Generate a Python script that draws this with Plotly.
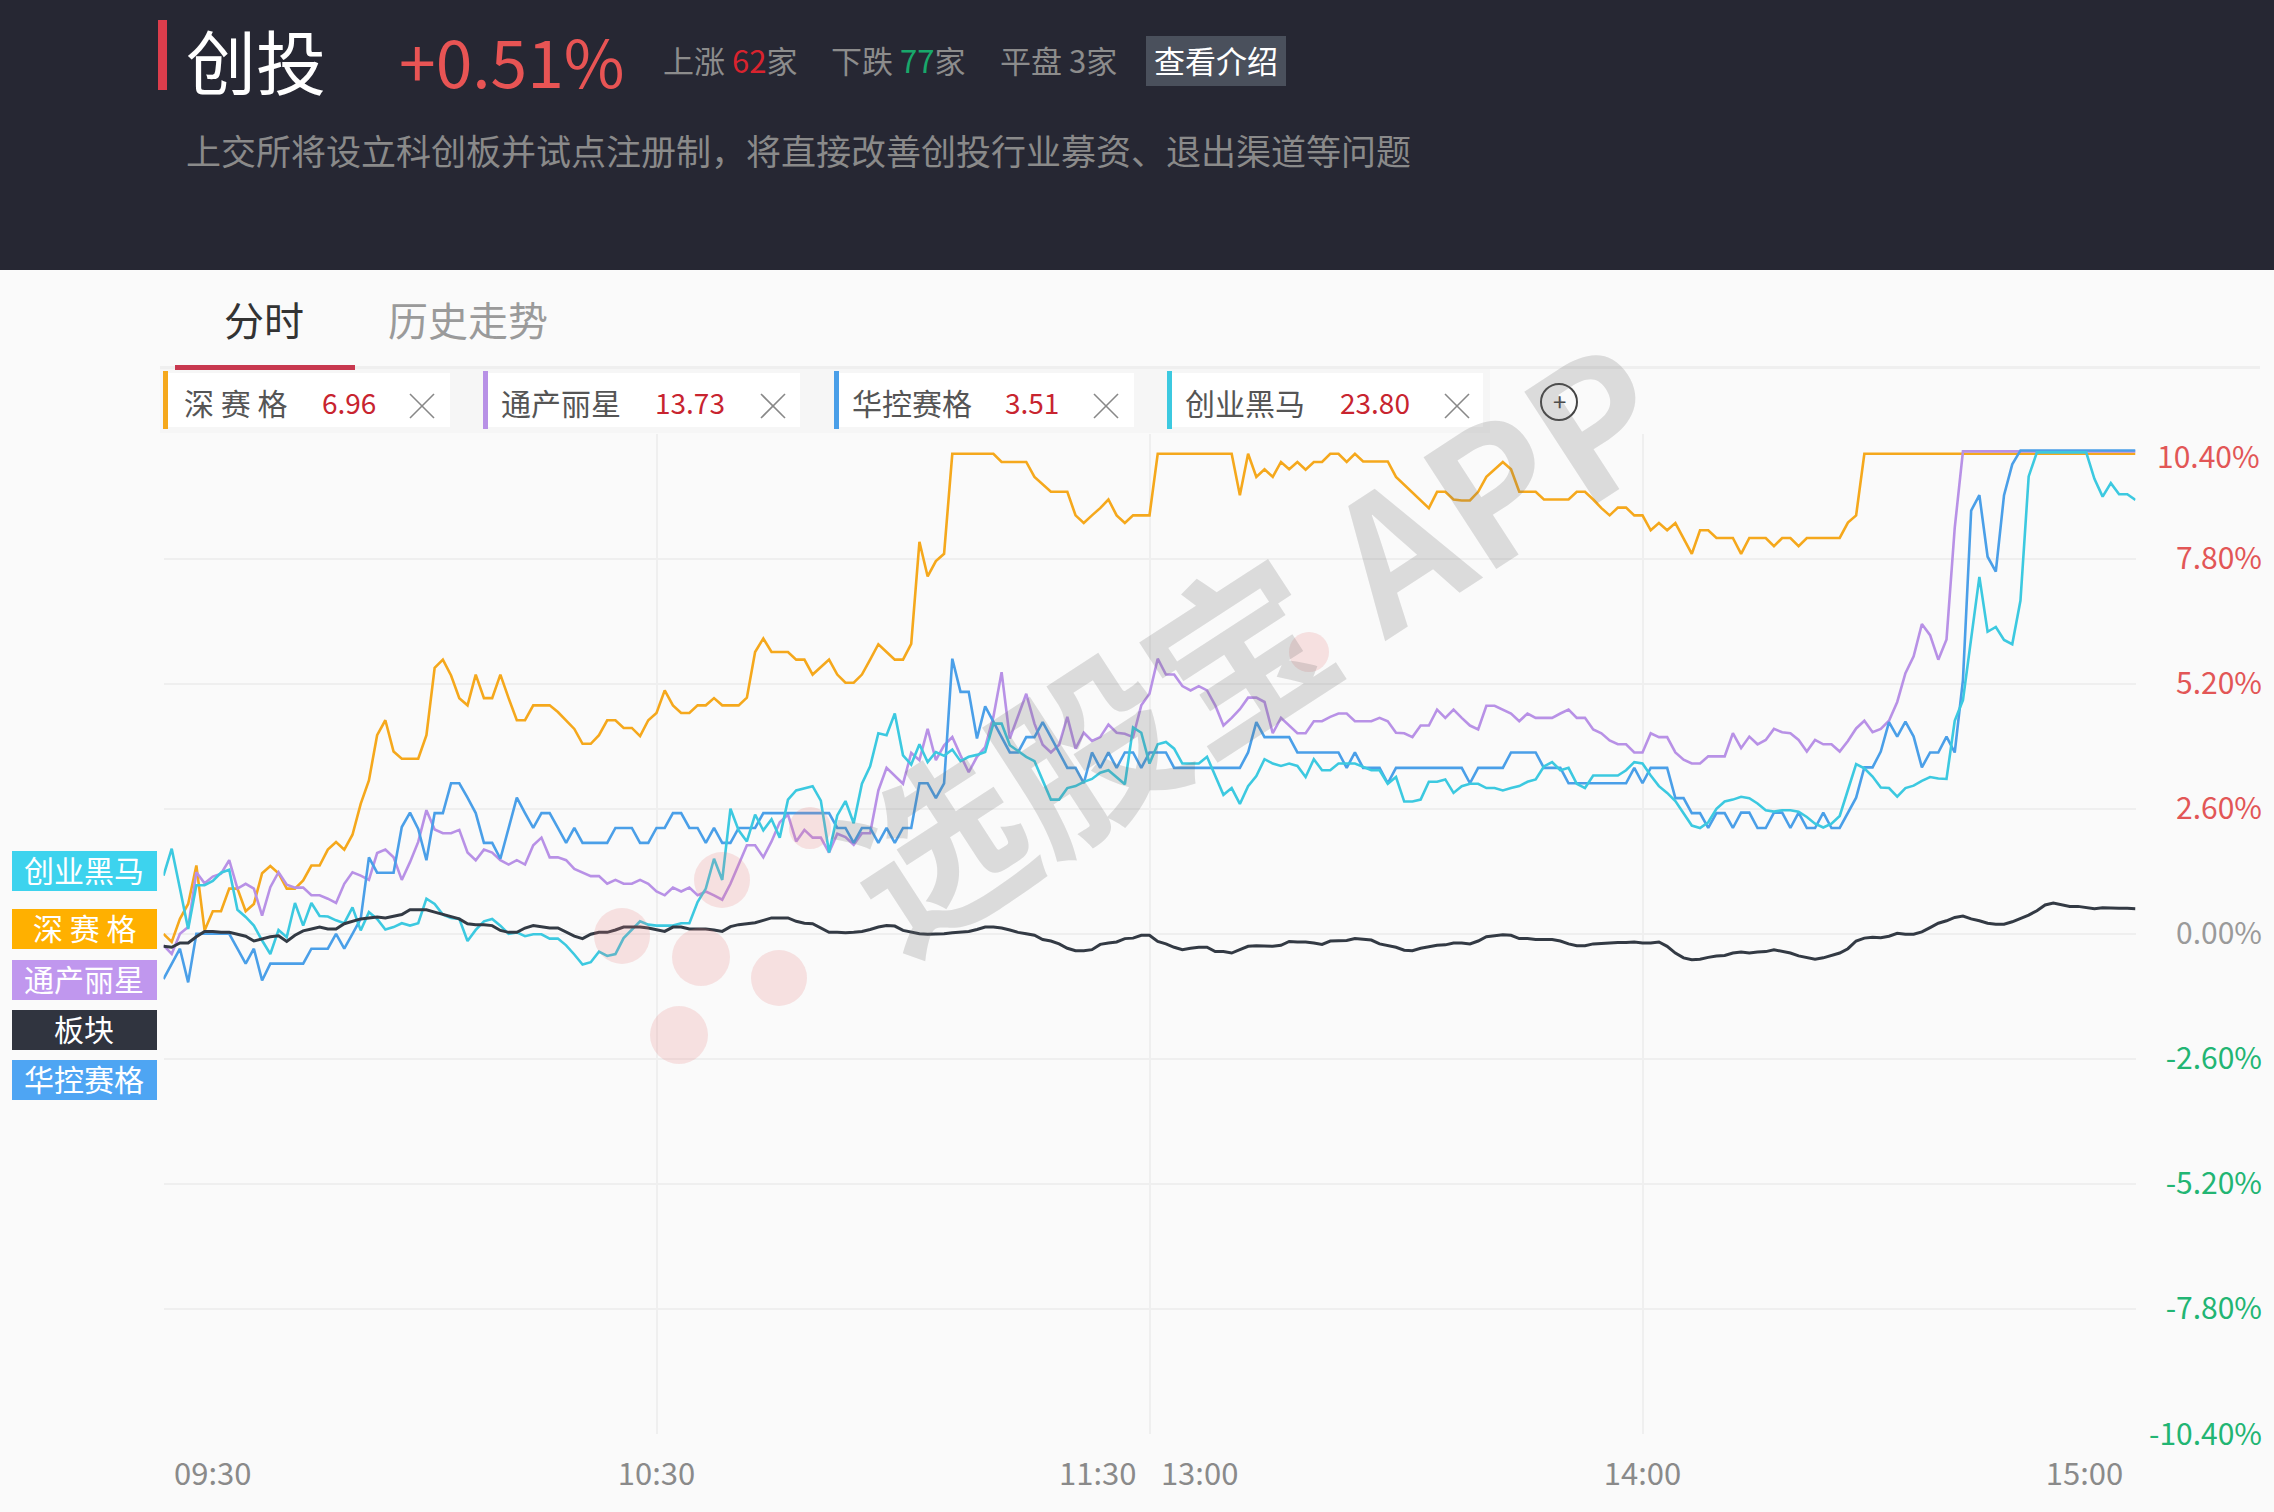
import plotly.graph_objects as go

W, H = 2274, 1512
FONT = "Noto Sans CJK SC"

minutes = list(range(241))

shensaige = [0.00,-0.17,0.31,0.62,1.42,0.07,0.47,0.47,0.94,0.94,0.47,0.62,1.26,1.41,1.26,0.94,0.94,1.11,1.42,1.42,
1.75,1.91,1.75,2.06,2.70,3.19,4.13,4.44,3.79,3.64,3.64,3.64,4.13,5.53,5.70,5.37,4.90,4.75,5.39,4.90,
4.90,5.39,4.90,4.44,4.44,4.75,4.75,4.75,4.61,4.44,4.26,3.95,3.95,4.13,4.44,4.44,4.28,4.28,4.11,4.44,
4.59,5.06,4.75,4.59,4.59,4.75,4.75,4.90,4.75,4.75,4.75,4.91,5.86,6.14,5.86,5.86,5.86,5.70,5.70,5.39,
5.55,5.70,5.39,5.22,5.22,5.39,5.70,6.02,5.86,5.70,5.70,6.03,8.15,7.43,7.75,7.90,9.98,9.98,9.98,9.98,
9.98,9.98,9.81,9.81,9.81,9.81,9.50,9.34,9.19,9.19,9.19,8.70,8.54,8.70,8.85,9.03,8.70,8.54,8.70,8.70,
8.70,9.98,9.98,9.98,9.98,9.98,9.98,9.98,9.98,9.98,9.98,9.12,9.98,9.50,9.66,9.50,9.81,9.66,9.81,9.65,
9.81,9.81,9.98,9.98,9.81,9.98,9.82,9.82,9.82,9.82,9.50,9.34,9.19,9.01,8.85,9.19,9.19,9.03,9.01,9.01,
9.19,9.50,9.66,9.81,9.66,9.19,9.19,9.19,9.03,9.03,9.03,9.03,9.19,9.19,9.03,8.85,8.70,8.86,8.86,8.70,
8.70,8.39,8.54,8.39,8.54,8.22,7.90,8.39,8.39,8.23,8.23,8.23,7.90,8.23,8.23,8.23,8.06,8.23,8.23,8.06,
8.23,8.23,8.23,8.23,8.23,8.55,8.70,9.98,9.98,9.98,9.98,9.98,9.98,9.98,9.98,9.98,9.98,9.98,9.98,9.98,
9.98,9.98,9.98,9.98,9.98,9.98,9.98,9.98,9.98,9.98,9.98,9.98,9.98,9.98,9.98,9.98,9.98,9.98,9.98,9.98,9.98]

tongchan = [-0.24,-0.42,0.00,0.14,1.28,1.05,1.19,1.25,1.53,0.94,1.04,0.94,0.38,0.97,1.28,1.02,0.96,0.96,0.80,0.80,
0.73,0.64,1.04,1.28,1.21,1.12,1.68,1.75,1.59,1.12,1.49,1.91,2.57,2.17,2.09,2.09,2.16,1.69,1.53,1.75,
1.69,1.53,1.44,1.53,1.44,1.84,2.00,1.59,1.59,1.53,1.35,1.27,1.20,1.20,1.04,1.12,1.04,1.04,1.12,1.04,
0.88,0.80,0.96,0.88,0.96,0.80,0.88,0.80,0.71,1.04,1.44,1.84,1.84,1.59,1.92,2.32,2.48,1.92,2.16,2.00,
2.00,1.69,2.08,2.01,1.85,2.09,2.09,2.98,3.45,3.29,3.12,3.76,3.61,4.26,3.61,3.92,4.09,3.71,3.36,3.68,
3.88,4.51,5.44,4.06,4.52,4.99,4.37,3.93,3.77,3.93,4.51,3.85,4.18,4.01,4.09,4.35,4.18,4.16,4.09,4.75,
4.99,5.72,5.39,5.39,5.15,5.06,5.15,5.06,4.75,4.33,4.49,4.67,4.91,4.91,4.82,4.17,4.49,4.33,4.17,4.17,
4.42,4.42,4.51,4.58,4.58,4.42,4.42,4.42,4.49,4.42,4.18,4.17,4.09,4.33,4.33,4.66,4.49,4.66,4.49,4.33,
4.25,4.74,4.74,4.66,4.58,4.42,4.58,4.49,4.49,4.49,4.58,4.66,4.49,4.49,4.25,4.17,4.02,3.94,3.94,3.77,
3.77,4.17,4.09,4.09,3.77,3.62,3.54,3.54,3.69,3.69,3.69,4.17,3.86,4.10,3.94,4.03,4.26,4.19,4.17,4.03,
3.79,4.03,3.94,3.94,3.79,4.01,4.27,4.43,4.19,4.26,4.43,4.82,5.42,5.77,6.44,6.21,5.70,6.12,8.44,10.03,
10.03,10.03,10.03,10.03,10.03,10.03,10.03,10.03,10.03,10.03,10.03,10.03,10.03,10.03,10.03,10.03,10.03,10.03,10.03,10.03,10.03]

huakong = [-0.94,-0.62,-0.31,-1.01,0.00,0.00,0.00,0.00,0.00,-0.31,-0.62,-0.31,-0.97,-0.62,-0.62,-0.62,-0.62,-0.62,-0.31,-0.31,
-0.31,0.00,-0.31,0.00,0.31,1.59,1.27,1.27,1.27,2.22,2.52,2.18,1.53,2.51,2.51,3.13,3.13,2.83,2.51,1.89,
1.89,1.56,2.20,2.83,2.51,2.20,2.51,2.51,2.20,1.89,2.20,1.89,1.89,1.89,1.89,2.20,2.20,2.20,1.89,1.89,
2.20,2.20,2.51,2.51,2.20,2.20,1.89,2.20,1.89,1.89,2.20,2.20,2.20,2.51,2.51,2.51,2.51,2.51,2.51,2.51,
2.51,2.51,2.20,2.20,1.89,2.20,2.20,1.89,2.20,1.89,2.20,2.20,3.13,3.13,2.82,3.13,5.72,5.03,5.03,4.06,
4.73,4.40,4.09,3.77,3.77,4.09,4.09,4.40,4.09,3.77,3.45,3.45,3.13,3.77,3.45,3.77,3.45,3.77,3.77,3.45,
3.77,3.77,3.77,3.45,3.45,3.45,3.45,3.45,3.45,3.45,3.45,3.45,3.77,4.40,4.09,4.09,4.09,4.09,3.77,3.77,
3.77,3.77,3.77,3.77,3.45,3.77,3.45,3.45,3.45,3.13,3.45,3.45,3.45,3.45,3.45,3.45,3.45,3.45,3.45,3.13,
3.45,3.45,3.45,3.45,3.77,3.77,3.77,3.77,3.45,3.45,3.45,3.13,3.13,3.13,3.13,3.13,3.13,3.13,3.13,3.45,
3.13,3.45,3.45,3.45,2.82,2.82,2.51,2.51,2.20,2.51,2.51,2.20,2.52,2.52,2.20,2.20,2.52,2.52,2.20,2.52,
2.20,2.20,2.52,2.20,2.20,2.52,2.83,3.46,3.46,3.79,4.40,4.10,4.41,4.10,3.46,3.77,3.77,4.10,3.77,5.28,
8.80,9.12,7.84,7.53,9.12,9.76,10.05,10.05,10.05,10.05,10.05,10.05,10.05,10.05,10.05,10.05,10.05,10.05,10.05,10.05,10.05]

chuangye = [1.21,1.77,0.94,0.10,1.01,1.01,1.10,1.27,1.33,0.50,0.35,0.17,-0.14,-0.42,0.08,-0.07,0.64,0.17,0.64,0.37,
0.36,0.28,0.22,0.55,0.07,0.45,0.31,0.09,0.14,0.22,0.17,0.22,0.73,0.62,0.40,0.33,0.31,-0.15,0.08,0.26,
0.31,0.17,0.00,0.03,-0.05,-0.01,-0.01,-0.10,-0.10,-0.24,-0.43,-0.64,-0.59,-0.37,-0.46,-0.42,-0.09,0.08,0.26,0.19,
0.17,0.17,0.17,0.22,0.22,0.66,0.94,1.56,1.12,2.60,2.15,1.92,2.48,2.15,2.38,2.00,2.79,2.98,3.03,3.07,
2.77,1.69,2.46,2.76,2.30,3.12,3.48,4.17,4.13,4.58,3.71,3.52,3.94,3.57,3.78,3.70,3.83,3.59,3.68,3.72,
3.78,4.37,4.37,3.92,3.80,3.68,3.59,3.19,2.79,2.79,3.03,3.07,3.16,3.22,3.35,3.40,3.26,3.11,4.29,4.18,
3.54,3.94,3.99,3.85,3.54,3.54,3.54,3.68,3.29,2.89,3.03,2.70,3.07,3.28,3.63,3.54,3.49,3.54,3.49,3.26,
3.63,3.40,3.40,3.54,3.54,3.54,3.47,3.40,3.40,3.12,3.26,2.75,2.75,2.79,3.16,3.16,3.21,2.93,3.07,3.12,
3.12,3.03,3.03,2.98,3.03,3.07,3.16,3.21,3.48,3.57,3.40,3.45,3.12,3.03,3.29,3.29,3.29,3.29,3.40,3.57,
3.54,3.29,3.07,2.93,2.76,2.51,2.25,2.20,2.32,2.60,2.75,2.79,2.85,2.82,2.71,2.57,2.54,2.57,2.57,2.54,
2.43,2.29,2.21,2.29,2.45,2.99,3.53,3.44,3.27,3.04,3.03,2.85,3.03,3.08,3.18,3.26,3.23,3.22,4.43,4.86,
6.16,7.42,6.28,6.38,6.11,6.02,6.93,9.51,10.01,10.01,10.01,10.01,10.01,10.01,10.01,9.46,9.09,9.37,9.14,9.14,9.02]

bankuai = [-0.26,-0.28,-0.19,-0.19,-0.06,0.05,0.05,0.03,0.03,-0.01,-0.05,-0.15,-0.10,-0.06,-0.04,-0.16,-0.03,0.06,0.10,0.14,
0.10,0.10,0.21,0.26,0.31,0.33,0.35,0.33,0.37,0.40,0.50,0.50,0.50,0.45,0.40,0.35,0.31,0.21,0.19,0.19,
0.17,0.07,0.03,0.03,0.12,0.17,0.15,0.12,0.12,0.03,-0.05,-0.10,-0.01,0.03,0.03,0.08,0.14,0.14,0.14,0.12,
0.08,0.05,0.14,0.14,0.10,0.10,0.10,0.08,0.05,0.15,0.19,0.21,0.23,0.28,0.33,0.33,0.33,0.26,0.22,0.21,
0.12,0.03,0.03,0.02,0.03,0.05,0.09,0.14,0.17,0.16,0.07,0.04,0.00,-0.01,-0.01,0.00,0.02,0.03,0.05,0.09,
0.14,0.14,0.12,0.08,0.03,0.00,-0.03,-0.12,-0.15,-0.21,-0.30,-0.35,-0.35,-0.33,-0.22,-0.19,-0.17,-0.10,-0.09,-0.03,
-0.03,-0.16,-0.21,-0.28,-0.33,-0.30,-0.28,-0.28,-0.37,-0.37,-0.40,-0.33,-0.26,-0.25,-0.25,-0.26,-0.24,-0.16,-0.17,-0.17,
-0.19,-0.22,-0.15,-0.14,-0.14,-0.10,-0.12,-0.13,-0.21,-0.24,-0.28,-0.34,-0.35,-0.30,-0.27,-0.24,-0.23,-0.19,-0.19,-0.21,
-0.15,-0.06,-0.04,-0.02,-0.03,-0.10,-0.10,-0.12,-0.12,-0.12,-0.15,-0.21,-0.25,-0.25,-0.21,-0.20,-0.18,-0.18,-0.18,-0.17,
-0.19,-0.19,-0.17,-0.26,-0.40,-0.50,-0.54,-0.53,-0.49,-0.46,-0.45,-0.40,-0.38,-0.40,-0.38,-0.37,-0.33,-0.36,-0.40,-0.46,
-0.49,-0.53,-0.50,-0.45,-0.40,-0.31,-0.15,-0.09,-0.07,-0.08,-0.05,0.01,-0.01,-0.01,0.04,0.13,0.22,0.27,0.34,0.37,
0.31,0.27,0.22,0.20,0.20,0.25,0.32,0.39,0.48,0.60,0.64,0.60,0.57,0.57,0.55,0.52,0.54,0.53,0.53,0.53,0.52]

series_names = ["深赛格", "通产丽星", "华控赛格", "创业黑马", "板块"]
series_values = [shensaige, tongchan, huakong, chuangye, bankuai]
series_colors = ["#F5A81C", "#B891E6", "#4A9FE8", "#3CC9E0", "#333A44"]
series_widths = [2.6, 2.6, 2.6, 2.6, 3.0]

y_ticks = [7.8, 5.2, 2.6, 0.0, -2.6, -5.2, -7.8, -10.4]
y_top = 10.4
x_grid = [60, 120, 180]
x_tick_pos = [6.0, 60, 113.7, 126.1, 180, 233.8]
x_tick_text = ["09:30", "10:30", "11:30", "13:00", "14:00", "15:00"]

tag_names = ["深 赛 格", "通产丽星", "华控赛格", "创业黑马"]
tag_values = ["6.96", "13.73", "3.51", "23.80"]
tag_colors = ["#F5A81C", "#B891E6", "#4A9FE8", "#3CC9E0"]
tag_box = [(163, 450, 235, 349, 422), (483, 800, 561, 690, 773), (834, 1134, 912, 1032, 1106), (1167, 1483, 1245, 1375, 1457)]

left_names = ["创业黑马", "深 赛 格", "通产丽星", "板块", "华控赛格"]
left_colors = ["#3DD3EE", "#FFB000", "#C097EE", "#30343F", "#4EA5F3"]
left_y = [871, 929, 980, 1030, 1080]

red, green, grey = "#E25656", "#22B573", "#9A9A9A"


def px(x):
    return x / W


def py(y):
    return 1 - y / H


def label_color(v):
    return red if v > 0 else green if v < 0 else grey


shapes, notes = [], []


def rect(x0, y0, x1, y1, fill, layer="below"):
    shapes.append(dict(type="rect", xref="paper", yref="paper", x0=px(x0), x1=px(x1), y0=py(y0), y1=py(y1),
                       fillcolor=fill, line_width=0, layer=layer))


def seg(x0, y0, x1, y1, color, width=1.6, layer="above"):
    shapes.append(dict(type="line", xref="paper", yref="paper", x0=px(x0), x1=px(x1), y0=py(y0), y1=py(y1),
                       line=dict(color=color, width=width), layer=layer))


def circle(cx, cy, r, fill, line=None):
    shapes.append(dict(type="circle", xref="paper", yref="paper", x0=px(cx - r), x1=px(cx + r),
                       y0=py(cy + r), y1=py(cy - r), fillcolor=fill,
                       line=dict(color=line or "rgba(0,0,0,0)", width=2), layer="above"))


def text(x, y, s, size, color, anchor="center", angle=0, **kw):
    notes.append(dict(xref="paper", yref="paper", x=px(x), y=py(y), text=s, showarrow=False, xanchor=anchor,
                      yanchor="middle", textangle=angle, font=dict(family=FONT, size=size, color=color), **kw))


# header
rect(0, 0, W, 270, "#262733")
rect(158, 20, 167, 90, "#DC3D4C")
text(184, 59, "创投", 70, "#FFFFFF", "left")
text(397, 59, "+0.51%", 66, "#E85454", "left")
text(661, 60, "上涨 <span style='color:#D9232E'>62</span>家", 31, "#8C8C8C", "left")
text(829, 60, "下跌 <span style='color:#18A86B'>77</span>家", 31, "#8C8C8C", "left")
text(998, 60, "平盘 3家", 31, "#8C8C8C", "left")
rect(1146, 36, 1286, 86, "#4A505C")
text(1216, 60, "查看介绍", 31, "#FFFFFF")
text(184, 150, "上交所将设立科创板并试点注册制，将直接改善创投行业募资、退出渠道等问题", 35, "#8A8A8A", "left")

# tabs
text(264, 319, "分时", 40, "#333333")
text(468, 319, "历史走势", 40, "#9A9A9A")
rect(160, 366, 2260, 369, "#EFEFEF")
rect(160, 369, 1490, 433, "#F6F6F6")
rect(175, 365, 355, 370, "#C8384F")

# tag row
for name, val, col, (x0, x1, xn, xv, xc) in zip(tag_names, tag_values, tag_colors, tag_box):
    rect(x0, 373, x1, 427, "#FFFFFF")
    rect(x0, 371, x0 + 5, 429, col)
    text(xn, 402, name, 30, "#555555")
    text(xv, 402, val, 28, "#C8242F")
    seg(xc - 12, 394, xc + 12, 418, "#888888")
    seg(xc - 12, 418, xc + 12, 394, "#888888")
circle(1559, 402, 18, "rgba(0,0,0,0)", "#444444")
text(1559, 400, "+", 24, "#444444")

# left series labels
for name, col, yc in zip(left_names, left_colors, left_y):
    rect(12, yc - 20, 157, yc + 20, col)
    text(84, yc - 2, name, 30, "#FFFFFF")

# top y label sits just under the top gridline
text(2262, 455, f"{y_top:.2f}%", 30, red, "right")

# watermark dots and text
for cx, cy, r in [(622, 936, 28), (701, 957, 29), (779, 978, 28), (722, 880, 28), (810, 828, 21), (679, 1035, 29), (1309, 652, 20)]:
    circle(cx, cy, r, "rgba(228,120,120,0.20)")
text(1248, 636, "选股宝 APP", 180, "rgba(110,110,110,0.22)", angle=-33)
notes[-1]["font"]["weight"] = "bold"

fig = go.Figure()
for name, vals, col, w in zip(series_names, series_values, series_colors, series_widths):
    fig.add_trace(go.Scatter(x=minutes, y=vals, mode="lines", name=name, line=dict(color=col, width=w),
                             hoverinfo="skip", showlegend=False))

all_y = [y_top] + y_ticks
fig.update_layout(
    width=W, height=H, margin=dict(l=0, r=0, t=0, b=0, pad=0), autosize=False,
    paper_bgcolor="#FAFAFA", plot_bgcolor="#FAFAFA", showlegend=False,
    font=dict(family=FONT), shapes=shapes, annotations=notes,
    xaxis=dict(domain=[px(163.5), px(2135.5)], range=[0, 240], anchor="free", position=py(1453), automargin=False,
               tickmode="array", tickvals=x_tick_pos, ticktext=x_tick_text, showgrid=False, zeroline=False,
               showline=False, ticks="", tickfont=dict(size=31, color="#8A8A8A", family=FONT),
               minor=dict(tickmode="array", tickvals=x_grid, showgrid=True, gridcolor="#EFEFEF", gridwidth=2, ticks="")),
    yaxis=dict(domain=[py(1434), py(433.6)], range=[-10.4, 10.4], anchor="free", position=px(2262), side="left",
               automargin=False, tickmode="array", tickvals=all_y,
               ticktext=[""] + [f"<span style='color:{label_color(v)}'>{v:.2f}%</span>" for v in y_ticks],
               showgrid=True, gridcolor="#EFEFEF", gridwidth=2, zeroline=False, showline=False, ticks="",
               tickfont=dict(size=30, color=grey, family=FONT)),
)
fig.write_html("out.html", config=dict(displayModeBar=False),
               post_script="document.body.style.margin='0';document.body.style.overflow='hidden';document.body.style.background='#FAFAFA';")
